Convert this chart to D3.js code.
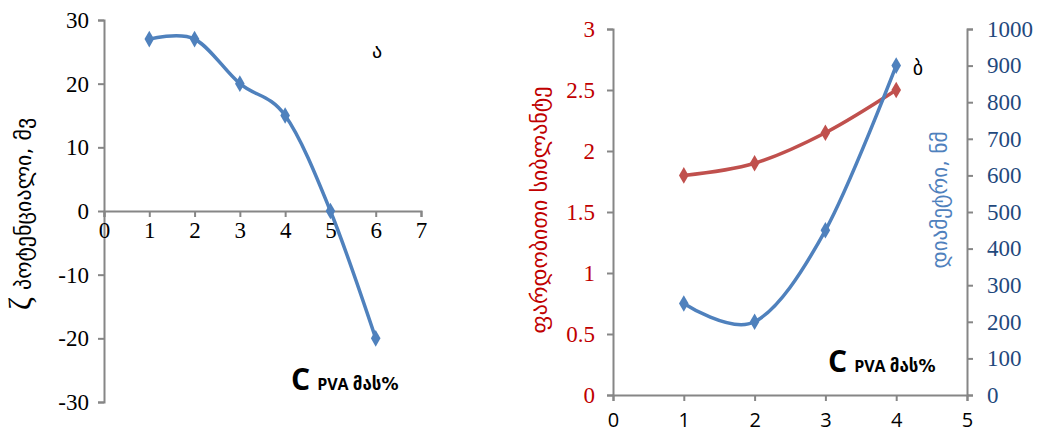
<!DOCTYPE html>
<html>
<head>
<meta charset="utf-8">
<script src="https://cdn.jsdelivr.net/npm/d3@7"></script>
<style>
  body { margin: 0; background: #fff; }
  svg { display: block; }
</style>
</head>
<body>
<svg id="chart" width="1045" height="440"></svg>
<script>
// ζ-პოტენციალი (ა)
const zetaX = [1, 2, 3, 4, 5, 6];
const zetaY = [27, 27, 20, 15, 0, -20];
const zetaYTicks = [-30, -20, -10, 0, 10, 20, 30];
const zetaXTicks = [0, 1, 2, 3, 4, 5, 6, 7];

// სიბლანტე და დიამეტრი (ბ)
const pvaX = [1, 2, 3, 4];
const viscosity = [1.8, 1.9, 2.15, 2.5];
const diameter = [250, 200, 450, 900];
const viscTicks = [0, 0.5, 1, 1.5, 2, 2.5, 3];
const diamTicks = [0, 100, 200, 300, 400, 500, 600, 700, 800, 900, 1000];
const pvaXTicks = [0, 1, 2, 3, 4, 5];

const svg = d3.select("#chart");
const axisColor = "#868686";
const blue = "#4f81bd";
const red = "#c0504d";
const serif = "'Liberation Serif', 'Times New Roman', serif";
const sans = "'Open Sans', 'Liberation Sans', sans-serif";
const geo = "'DejaVu Sans', sans-serif";
const plain = d => String(d); // ტირე და არა მინუსი, მძიმეების გარეშე

function styleAxis(g) {
  g.selectAll("path.domain").attr("stroke", axisColor).attr("stroke-width", 2);
  g.selectAll(".tick line").attr("stroke", axisColor).attr("stroke-width", 2);
}

function diamond(g, pts, color) {
  g.selectAll(null).data(pts).enter().append("path")
    .attr("d", d3.symbol().type(d3.symbolDiamond).size(80))
    .attr("transform", d => `translate(${d[0]},${d[1]})`)
    .attr("fill", color);
}

// ---------- ა ----------
const x1 = d3.scaleLinear().domain([0, 7]).range([104, 421]);
const y1 = d3.scaleLinear().domain([-30, 30]).range([402, 20]);

const gy1 = svg.append("g").attr("transform", `translate(${x1(0)},0)`)
  .call(d3.axisLeft(y1).tickValues(zetaYTicks).tickFormat(plain).tickSize(6).tickPadding(9).tickSizeOuter(6));
styleAxis(gy1);
gy1.selectAll(".tick text").attr("font-family", serif).attr("font-size", 23).attr("fill", "#000");

const gx1 = svg.append("g").attr("transform", `translate(0,${y1(0)})`)
  .call(d3.axisBottom(x1).tickValues(zetaXTicks).tickFormat(plain).tickSize(6).tickPadding(5).tickSizeOuter(6));
styleAxis(gx1);
gx1.selectAll(".tick text").attr("font-family", serif).attr("font-size", 23).attr("fill", "#000");

const zetaPts = zetaX.map((v, i) => [x1(v), y1(zetaY[i])]);
svg.append("path")
  .attr("d", d3.line().curve(d3.curveCatmullRom.alpha(0))(zetaPts))
  .attr("fill", "none").attr("stroke", blue).attr("stroke-width", 3.5);
diamond(svg.append("g"), zetaPts, blue);

svg.append("text")
  .attr("transform", "translate(31,214) rotate(-90)")
  .attr("text-anchor", "middle")
  .attr("font-family", geo).attr("font-size", 22).attr("fill", "#000")
  .html('<tspan font-family="Liberation Serif" font-size="32">ζ</tspan> პოტენციალი, მვ');

svg.append("text").attr("x", 377).attr("y", 58).attr("text-anchor", "middle")
  .attr("font-family", geo).attr("font-size", 20).attr("fill", "#000").text("ა");

function cLabel(x, y) {
  const t = svg.append("text").attr("x", x).attr("y", y)
    .attr("font-family", sans).attr("font-weight", "bold").attr("fill", "#000");
  t.append("tspan").attr("font-size", 30).text("C");
  t.append("tspan").attr("font-size", 16).attr("dx", 7).text("PVA ");
  t.append("tspan").attr("font-size", 17).attr("font-family", geo).text("მას%");
}
cLabel(291, 390);

// ---------- ბ ----------
const x2 = d3.scaleLinear().domain([0, 5]).range([613, 967]);
const y2 = d3.scaleLinear().domain([0, 3]).range([395, 29]);
const y3 = d3.scaleLinear().domain([0, 1000]).range([395, 29]);

const gy2 = svg.append("g").attr("transform", `translate(${x2(0)},0)`)
  .call(d3.axisLeft(y2).tickValues(viscTicks).tickFormat(plain).tickSize(6).tickPadding(12).tickSizeOuter(6));
styleAxis(gy2);
gy2.selectAll(".tick text").attr("font-family", serif).attr("font-size", 23).attr("fill", "#c00000");

const gy3 = svg.append("g").attr("transform", `translate(${x2(5)},0)`)
  .call(d3.axisRight(y3).tickValues(diamTicks).tickFormat(plain).tickSize(6).tickPadding(14).tickSizeOuter(6));
styleAxis(gy3);
gy3.selectAll(".tick text").attr("font-family", serif).attr("font-size", 23).attr("fill", "#1f497d");

const gx2 = svg.append("g").attr("transform", `translate(0,${y2(0)})`)
  .call(d3.axisBottom(x2).tickValues(pvaXTicks).tickFormat(plain).tickSize(6).tickPadding(12).tickSizeOuter(6));
styleAxis(gx2);
gx2.selectAll(".tick text").attr("font-family", sans).attr("font-size", 20).attr("fill", "#000");

const viscPts = pvaX.map((v, i) => [x2(v), y2(viscosity[i])]);
const diamPts = pvaX.map((v, i) => [x2(v), y3(diameter[i])]);
svg.append("path")
  .attr("d", d3.line().curve(d3.curveCatmullRom.alpha(0))(viscPts))
  .attr("fill", "none").attr("stroke", red).attr("stroke-width", 3.5);
diamond(svg.append("g"), viscPts, red);
svg.append("path")
  .attr("d", d3.line().curve(d3.curveCatmullRom.alpha(0))(diamPts))
  .attr("fill", "none").attr("stroke", blue).attr("stroke-width", 3.5);
diamond(svg.append("g"), diamPts, blue);

svg.append("text")
  .attr("transform", "translate(547,210) rotate(-90)")
  .attr("text-anchor", "middle")
  .attr("font-family", geo).attr("font-size", 22).attr("fill", "#c00000")
  .text("ფარდობითი სიბლანტე");

svg.append("text")
  .attr("transform", "translate(947,200) rotate(-90)")
  .attr("text-anchor", "middle")
  .attr("font-family", geo).attr("font-size", 21).attr("fill", blue)
  .text("დიამეტრი, ნმ");

svg.append("text").attr("x", 918).attr("y", 75).attr("text-anchor", "middle")
  .attr("font-family", geo).attr("font-size", 20).attr("fill", "#000").text("ბ");

cLabel(828, 372);
</script>
</body>
</html>
